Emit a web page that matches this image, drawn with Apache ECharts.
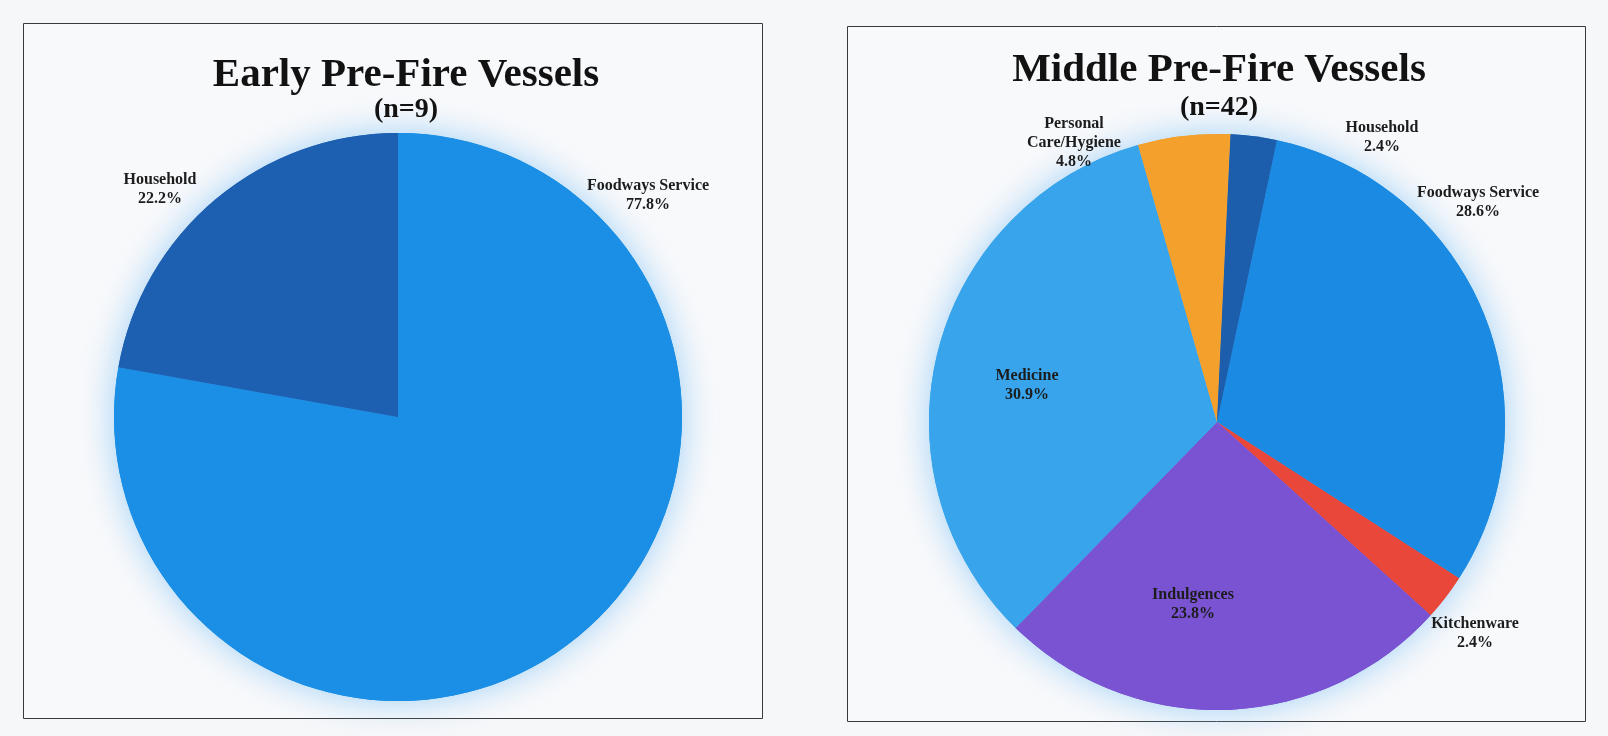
<!DOCTYPE html>
<html>
<head>
<meta charset="utf-8">
<script src="https://cdn.jsdelivr.net/npm/echarts@6/dist/echarts.min.js"></script>
<style>
  html, body { margin: 0; padding: 0; background: #f6f7f9; }
  #chart { width: 1608px; height: 736px; }
</style>
</head>
<body>
<div id="chart"></div>
<script>
// Vessel function groups, share of vessels in each period (percent)
const earlyCategories = ['Foodways Service', 'Household'];
const earlyPercents = [77.8, 22.2];

const middleCategories = ['Foodways Service', 'Kitchenware', 'Indulgences', 'Medicine', 'Personal Care/Hygiene', 'Household'];
const middlePercents = [28.6, 2.4, 23.8, 30.9, 4.8, 2.4];

const earlyTitle = 'Early Pre-Fire Vessels';
const earlyCount = '(n=9)';
const middleTitle = 'Middle Pre-Fire Vessels';
const middleCount = '(n=42)';

// ---- styling ----
const sliceColors = {
  early: { 'Foodways Service': '#1a8fe5', 'Household': '#1d5fb1' },
  middle: {
    'Foodways Service': '#1b8ae2', 'Kitchenware': '#e9473a', 'Indulgences': '#7a53d3',
    'Medicine': '#38a4ec', 'Personal Care/Hygiene': '#f4a02c', 'Household': '#1c5dac'
  }
};
const serif = '"Liberation Serif", "Times New Roman", serif';

// how long category names wrap inside their labels
const labelWrap = { 'Personal Care/Hygiene': 'Personal\nCare/Hygiene' };

const earlyPie = { center: [398, 417], radius: 284, startAngle: 90 };
const middlePie = { center: [1217, 422], radius: 288, startAngle: 78 };

// label anchor offsets from each pie's centre, by category
const earlyLabelSpots = { 'Foodways Service': [250, -222], 'Household': [-238, -228] };
const middleLabelSpots = {
  'Foodways Service': [261, -220], 'Kitchenware': [258, 211], 'Indulgences': [-24, 182],
  'Medicine': [-190, -37], 'Personal Care/Hygiene': [-143, -279], 'Household': [165, -285]
};

function buildData(names, values, colors) {
  return names.map((n, i) => ({ name: n, value: values[i], itemStyle: { color: colors[n] } }));
}

function haloSeries(pie, data) {
  return {
    type: 'pie', silent: true, z: 1, clockwise: true,
    center: pie.center, radius: pie.radius, startAngle: pie.startAngle,
    data: data, label: { show: false }, labelLine: { show: false },
    itemStyle: { borderWidth: 0, shadowBlur: 34, shadowColor: 'rgba(130,195,245,0.75)' },
    animation: false
  };
}

function mainSeries(pie, data, names, spots) {
  return {
    type: 'pie', z: 2, clockwise: true,
    center: pie.center, radius: pie.radius, startAngle: pie.startAngle,
    avoidLabelOverlap: false,
    data: data,
    itemStyle: { borderWidth: 0 },
    emphasis: { disabled: true },
    label: {
      show: true, position: 'outside',
      color: '#1c1c1c', fontFamily: serif, fontWeight: 'bold', fontSize: 16, lineHeight: 19,
      formatter: p => (labelWrap[p.name] || p.name) + '\n' + p.value.toFixed(1) + '%'
    },
    labelLine: { show: false },
    labelLayout: function (p) {
      const s = spots[names[p.dataIndex]];
      return { x: pie.center[0] + s[0], y: pie.center[1] + s[1], align: 'center', verticalAlign: 'middle' };
    },
    animation: false
  };
}

const earlyData = buildData(earlyCategories, earlyPercents, sliceColors.early);
const middleData = buildData(middleCategories, middlePercents, sliceColors.middle);

function panelText(x, y, text, size) {
  return {
    type: 'text', x: x, y: y, z: 10, silent: true,
    style: { text: text, font: 'bold ' + size + 'px ' + serif, fill: '#121212', align: 'center', verticalAlign: 'middle' }
  };
}

const chart = echarts.init(document.getElementById('chart'), null, { renderer: 'canvas' });
chart.setOption({
  backgroundColor: '#f6f7f9',
  animation: false,
  graphic: [
    { type: 'rect', z: -10, silent: true, shape: { x: 23.5, y: 23.5, width: 739, height: 695 },
      style: { fill: '#f8f9fb', stroke: '#3a3a3a', lineWidth: 1 } },
    { type: 'rect', z: -10, silent: true, shape: { x: 847.5, y: 26.5, width: 738, height: 695 },
      style: { fill: '#f8f9fb', stroke: '#3a3a3a', lineWidth: 1 } },
    panelText(406, 75, earlyTitle, 41),
    panelText(406, 110, earlyCount, 28),
    panelText(1219, 70, middleTitle, 41),
    panelText(1219, 108, middleCount, 28)
  ],
  series: [
    haloSeries(earlyPie, earlyData),
    mainSeries(earlyPie, earlyData, earlyCategories, earlyLabelSpots),
    haloSeries(middlePie, middleData),
    mainSeries(middlePie, middleData, middleCategories, middleLabelSpots)
  ]
});
</script>
</body>
</html>
